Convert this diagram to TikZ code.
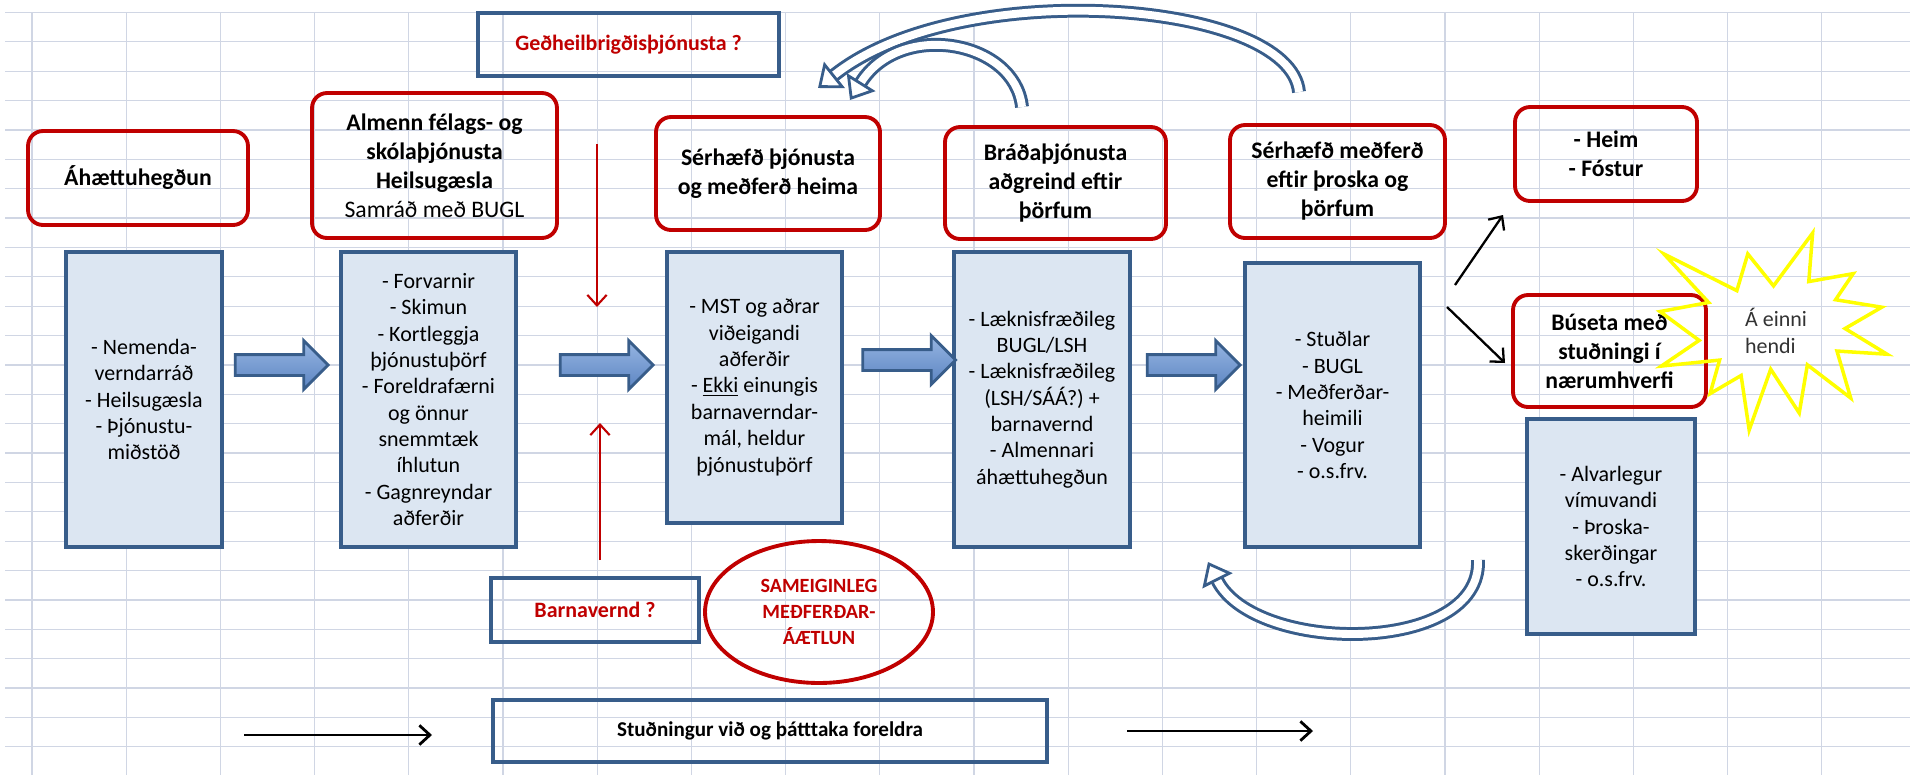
\documentclass[tikz,border=0pt]{standalone}
\usepackage{fontspec}
\setmainfont{Carlito}
\usetikzlibrary{shapes,arrows.meta,positioning,calc}
\definecolor{boxred}{RGB}{192,0,0}
\definecolor{boxblue}{RGB}{56,93,138}
\definecolor{paleblue}{RGB}{220,230,242}
\definecolor{arrowtop}{RGB}{150,182,226}
\definecolor{arrowbot}{RGB}{92,132,194}
\definecolor{gridgray}{RGB}{208,214,228}
\definecolor{staryellow}{RGB}{255,255,0}

\begin{document}
\begin{tikzpicture}[x=0.02cm, y=-0.02cm,
    redbox/.style={rectangle, rounded corners=0.3cm, draw=boxred, line width=2.2pt, align=center, font=\fontsize{13.5}{16.5}\selectfont\bfseries},
    bluebox/.style={rectangle, draw=boxblue, fill=paleblue, line width=2.2pt, align=center, font=\fontsize{12.5}{15}\selectfont},
    qbox/.style={rectangle, draw=boxblue, line width=2.5pt, text=boxred, font=\fontsize{12.5}{15}\selectfont\bfseries},
    blockarrow/.style={single arrow, draw=boxblue, line width=1.6pt, top color=arrowtop, bottom color=arrowbot, inner xsep=0pt, inner ysep=0.18cm, single arrow head extend=0.28cm, minimum height=1.86cm},
    curv/.style={draw=boxblue, double=white, line width=1.7pt, double distance=4.5pt, -{Triangle[length=12pt, width=19pt, fill=white, line width=1.6pt]}},
    redarrow/.style={boxred, line width=1.2pt, -{Straight Barb[length=6pt, width=11pt]}},
    blackarrow/.style={black, line width=1.3pt, -{Straight Barb[length=6pt, width=11pt]}}
]

\useasboundingbox (0,0) rectangle (1910,775);
\fill[white] (0,0) rectangle (1910,775);

% Grid
\foreach \k in {0,...,25}
    \draw[gridgray, line width=0.7pt] (5,{12.5+29.37*\k}) -- (1910,{12.5+29.37*\k});
\foreach \k in {0,...,19}
    \draw[gridgray, line width=0.7pt] ({32+94.2*\k},12) -- ({32+94.2*\k},775);

% Upper row
\node (risk) [redbox, minimum width=4.4cm, minimum height=1.88cm] at (138,178) {Áhættuhegðun};
\node (general) [redbox, minimum width=4.9cm, minimum height=2.9cm] at (434.5,165.5) {Almenn félags- og\\ skólaþjónusta\\ Heilsugæsla\\ {\mdseries Samráð með BUGL}};
\node (special) [redbox, minimum width=4.48cm, minimum height=2.26cm] at (768,173.5) {Sérhæfð þjónusta\\ og meðferð heima};
\node (acute) [redbox, minimum width=4.42cm, minimum height=2.24cm] at (1055.5,183) {Bráðaþjónusta\\ aðgreind eftir\\ þörfum};
\node (treat) [redbox, minimum width=4.3cm, minimum height=2.26cm] at (1337.5,181.5) {Sérhæfð meðferð\\ eftir þroska og\\ þörfum};
\node (home) [redbox, minimum width=3.64cm, minimum height=1.88cm] at (1606,154) {- Heim\\ - Fóstur};
\node (living) [redbox, minimum width=3.86cm, minimum height=2.24cm] at (1609.5,351) {Búseta með\\ stuðningi í\\ nærumhverfi};

% Lower row
\node (c1) [bluebox, minimum width=3.12cm, minimum height=5.9cm] at (144,399.5) {- Nemenda-\\ verndarráð\\ - Heilsugæsla\\ - Þjónustu-\\ miðstöð};
\node (c2) [bluebox, minimum width=3.5cm, minimum height=5.9cm] at (428.5,399.5) {- Forvarnir\\ - Skimun\\ - Kortleggja\\ þjónustuþörf\\ - Foreldrafærni\\ og önnur\\ snemmtæk\\ íhlutun\\ - Gagnreyndar\\ aðferðir};
\node (c3) [bluebox, minimum width=3.5cm, minimum height=5.42cm] at (754.5,387.5) {- MST og aðrar\\ viðeigandi\\ aðferðir\\ - \underline{Ekki} einungis\\ barnaverndar-\\ mál, heldur\\ þjónustuþörf};
\node (c4) [bluebox, minimum width=3.52cm, minimum height=5.9cm] at (1042,399.5) {- Læknisfræðileg\\ BUGL/LSH\\ - Læknisfræðileg\\ (LSH/SÁÁ?) +\\ barnavernd\\ - Almennari\\ áhættuhegðun};
\node (c5) [bluebox, minimum width=3.5cm, minimum height=5.68cm] at (1332.5,405) {- Stuðlar\\ - BUGL\\ - Meðferðar-\\ heimili\\ - Vogur\\ - o.s.frv.};
\node (c6) [bluebox, minimum width=3.36cm, minimum height=4.3cm] at (1611,526.5) {- Alvarlegur\\ vímuvandi\\ - Þroska-\\ skerðingar\\ - o.s.frv.};

% Block arrows
\node (a1) [blockarrow] at (276.5,365) {};
\node (a2) [blockarrow] at (601.5,365) {};
\node (a3) [blockarrow] at (904,360) {};
\node (a4) [blockarrow] at (1188.5,365) {};

% Questions and plan
\node (mental) [qbox, minimum width=6.02cm, minimum height=1.26cm] at (628.5,44.5) {Geðheilbrigðisþjónusta ?};
\node (child) [qbox, minimum width=4.16cm, minimum height=1.28cm] at (595,610) {Barnavernd ?};
\node (plan) [ellipse, draw=boxred, line width=2.2pt, text=boxred, align=center, font=\fontsize{11.5}{15}\selectfont\bfseries, minimum width=4.56cm, minimum height=2.84cm] at (819,612) {SAMEIGINLEG\\ MEÐFERÐAR-\\ ÁÆTLUN};
\node (parents) [qbox, text=black, minimum width=11.08cm, minimum height=1.24cm, font=\fontsize{12}{14}\selectfont\bfseries] at (770,731) {Stuðningur við og þátttaka foreldra};

% Red arrows
\coordinate (mentaltop) at (597,144);
\coordinate (mentaltip) at (597,307);
\coordinate (childfoot) at (600,560);
\coordinate (childtip) at (600,423);
\draw[redarrow] (mentaltop) -- (mentaltip);
\draw[redarrow] (childfoot) -- (childtip);

% Exits
\coordinate (uptail) at (1455,285);
\coordinate (uptip) at (1503,215);
\coordinate (downtail) at (1447,307);
\coordinate (downtip) at (1505,363);
\draw[blackarrow] (uptail) -- (uptip);
\draw[blackarrow] (downtail) -- (downtip);

% Parent arrows
\coordinate (leftfrom) at (244,735);
\coordinate (leftto) at (432,735);
\coordinate (rightfrom) at (1127,731);
\coordinate (rightto) at (1313,731);
\draw[blackarrow, line width=1.6pt] (leftfrom) -- (leftto);
\draw[blackarrow, line width=1.6pt] (rightfrom) -- (rightto);

% Curved arrows
\coordinate (outertail) at (1299,92);
\coordinate (outerhead) at (818,88);
\coordinate (innertail) at (1022,107);
\coordinate (innerhead) at (850,100);
\coordinate (lowtail) at (1478,560);
\coordinate (lowhead) at (1208,562);
\draw[curv] (outertail) .. controls (1290,0) and (960,-25) .. (outerhead);
\draw[curv] (innertail) .. controls (1015,40) and (900,20) .. (innerhead);
\draw[curv] (lowtail) .. controls (1482,655) and (1255,655) .. (lowhead);

% Star
\draw[staryellow, line width=2pt, line join=miter, shift={(1660,233)}, xscale=1.051, yscale=0.912]
    (108,58) -- (145.22,0) -- (141.55,53.25) -- (183.8,44.57) -- (167.02,73.15) -- (210.97,81.37)
    -- (176.07,104.75) -- (216,132.9) -- (168.37,129.42) -- (181.45,180.95) -- (140.2,144.57)
    -- (132.47,197.37) -- (105.32,149.35) -- (84.85,216) -- (77.15,156.27) -- (47.62,176.17)
    -- (56.67,139.37) -- (1.35,145.87) -- (37.22,117.75) -- (0,86.15) -- (46.27,76.17)
    -- (3.7,22.95) -- (73.12,63.2) -- (83.52,22.95) -- cycle;
\node (onehand) [align=left, text=black!80, font=\fontsize{12.5}{15}\selectfont] at (1776,331) {Á einni\\ hendi};

\end{tikzpicture}
\end{document}
